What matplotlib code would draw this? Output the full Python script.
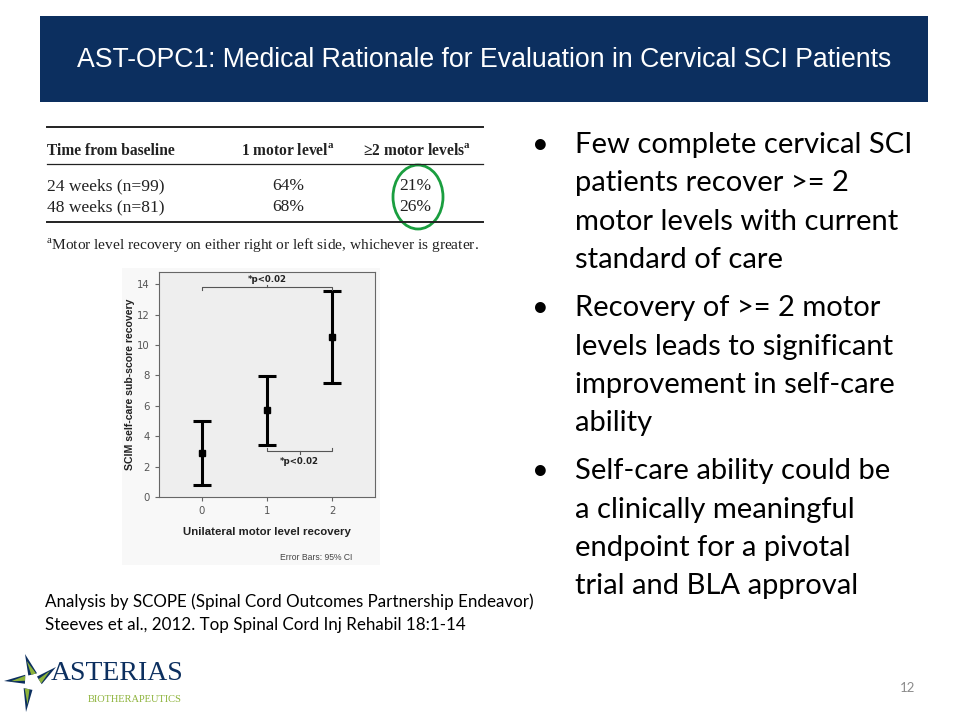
import matplotlib.pyplot as plt
import numpy as np
from matplotlib.patches import Rectangle, Ellipse, Polygon

# Chart data
motor_levels = [0, 1, 2]
scim_mean = [2.9, 5.7, 10.5]
ci_low = [0.8, 3.4, 7.5]
ci_high = [5.0, 7.95, 13.55]
sig_label = '*p<0.02'

# Table data
table_header = ['Time from baseline', '1 motor level', '\u22652 motor levels']
table_rows = ['24 weeks (n=99)', '48 weeks (n=81)']
one_level = ['64%', '68%']
two_levels = ['21%', '26%']

bullets = [
    ['Few complete cervical SCI', 'patients recover >= 2', 'motor levels with current', 'standard of care'],
    ['Recovery of >= 2 motor', 'levels leads to significant', 'improvement in self-care', 'ability'],
    ['Self-care ability could be', 'a clinically meaningful', 'endpoint for a pivotal', 'trial and BLA approval'],
]

navy = '#0c2f5f'
green = '#8db33a'

fig = plt.figure(figsize=(9.6, 7.2), dpi=100)
page = fig.add_axes([0, 0, 1, 1])
page.set_xlim(0, 960)
page.set_ylim(720, 0)
page.axis('off')

# Title banner
page.add_patch(Rectangle((40, 16), 888, 86, color=navy, lw=0))
page.text(484, 60, 'AST-OPC1: Medical Rationale for Evaluation in Cervical SCI Patients',
          color='white', fontsize=19.2, family='Liberation Sans', ha='center', va='center')

# Table
serif = 'Liberation Serif'
page.plot([47, 483], [127, 127], color='#222', lw=1.4)
page.plot([47, 483], [164, 164], color='#222', lw=0.9)
page.plot([47, 483], [222, 222], color='#222', lw=1.4)
page.text(47, 151, table_header[0], fontsize=11.2, family=serif, weight='bold', va='center', color='#222')
page.text(288, 151, table_header[1] + '$^{\\mathregular{a}}$', fontsize=11.2, family=serif, weight='bold',
          va='center', ha='center', color='#222')
page.text(417, 151, table_header[2] + '$^{\\mathregular{a}}$', fontsize=11.2, family=serif, weight='bold',
          va='center', ha='center', color='#222')
for i, row in enumerate(table_rows):
    y = 186 + i * 21
    page.text(47, y, row, fontsize=12.6, family=serif, va='center', color='#222')
    page.text(288, y, one_level[i], fontsize=12.6, family=serif, va='center', ha='center', color='#222')
    page.text(415, y, two_levels[i], fontsize=12.6, family=serif, va='center', ha='center', color='#222')
page.text(46, 246, '$^{\\mathregular{a}}$Motor level recovery on either right or left side, whichever is greater.',
          fontsize=11.1, family=serif, va='center', color='#222')
page.add_patch(Ellipse((418, 197), 50, 64, fill=False, ec='#1a9e3f', lw=2))

# Chart panel background
page.add_patch(Rectangle((122, 268), 258, 297, color='#f8f8f8', lw=0))

# Bullets
sans = 'Lato'
y = 153
for block in bullets:
    page.text(540, y, '\u2022', fontsize=21, family=sans, va='baseline', ha='center', color='black')
    for line in block:
        page.text(575, y, line, fontsize=21, family=sans, va='baseline', color='black')
        y += 38.3
    y += 10

# Source notes
page.text(45, 607, 'Analysis by SCOPE (Spinal Cord Outcomes Partnership Endeavor)', fontsize=12.25,
          family=sans, va='baseline', color='black')
page.text(45, 630, 'Steeves et al., 2012. Top Spinal Cord Inj Rehabil 18:1-14', fontsize=12.25,
          family=sans, va='baseline', color='black')

# Page number
page.text(915, 688, '12', fontsize=9.5, family=sans, ha='right', va='center', color='#8c8c8c')

# Logo
cx, cy = 32, 682
spikes = [(25, 654), (4, 681), (26, 712), (56, 667)]
for tx, ty in spikes:
    d = np.array([tx - cx, ty - cy], float)
    n = np.array([-d[1], d[0]]) / np.linalg.norm(d)
    base = np.array([cx, cy]) + d * 0.25
    page.add_patch(Polygon([base + n * 7, (tx, ty), base - n * 2], closed=True, color=navy, lw=0))
    page.add_patch(Polygon([base + n * 6, np.array([cx, cy]) + d * 0.75, base + n * 1],
                           closed=True, color=green, lw=0))
page.text(51, 673, 'ASTERIAS', fontsize=20, family='Liberation Serif', color=navy, va='center')
page.text(88, 700, 'BIOTHERAPEUTICS', fontsize=7.5, family='Liberation Serif', color=green, va='center')

# SCIM chart
ax = fig.add_axes([159 / 960, 1 - 497 / 720, 216 / 960, 225 / 720])
ax.set_facecolor('#eeeeee')
means = np.array(scim_mean)
yerr = [means - np.array(ci_low), np.array(ci_high) - means]
ax.errorbar(motor_levels, scim_mean, yerr=yerr, fmt='s', color='black', ms=4.5,
            elinewidth=2.2, capsize=6.5, capthick=2.2)
ax.set_xlim(-0.66, 2.66)
ax.set_ylim(0, 14.8)
ax.set_xticks(motor_levels)
ax.set_yticks(range(0, 15, 2))
ax.tick_params(colors='#666', labelsize=7.3, length=3, width=0.8, labelcolor='#555')
for s in ax.spines.values():
    s.set_color('#666')
    s.set_linewidth(0.8)
ax.set_ylabel('SCIM self-care sub-score recovery', fontsize=7.6, weight='bold', family='Liberation Sans',
              color='#222', labelpad=1.5)
ax.set_xlabel('Unilateral motor level recovery', fontsize=8.2, weight='bold', family='Liberation Sans',
              color='#222', labelpad=8)

# significance brackets
bc = '#555'
ax.plot([0, 0, 2, 2], [13.6, 13.8, 13.8, 13.6], color=bc, lw=0.8)
ax.plot([1, 1], [13.8, 13.95], color=bc, lw=0.8)
ax.text(1, 14.0, sig_label, fontsize=6.2, weight='bold', ha='center', va='bottom', color='#222')
ax.plot([1, 1, 2, 2], [3.25, 3.05, 3.05, 3.25], color=bc, lw=0.8)
ax.plot([1.5, 1.5], [3.05, 2.85], color=bc, lw=0.8)
ax.text(1.5, 2.65, sig_label, fontsize=6.2, weight='bold', ha='center', va='top', color='#222')

page.text(352, 558, 'Error Bars: 95% CI', fontsize=6.2, family='Liberation Sans', ha='right',
          va='center', color='#444')

fig.savefig('out.png', dpi=100)
